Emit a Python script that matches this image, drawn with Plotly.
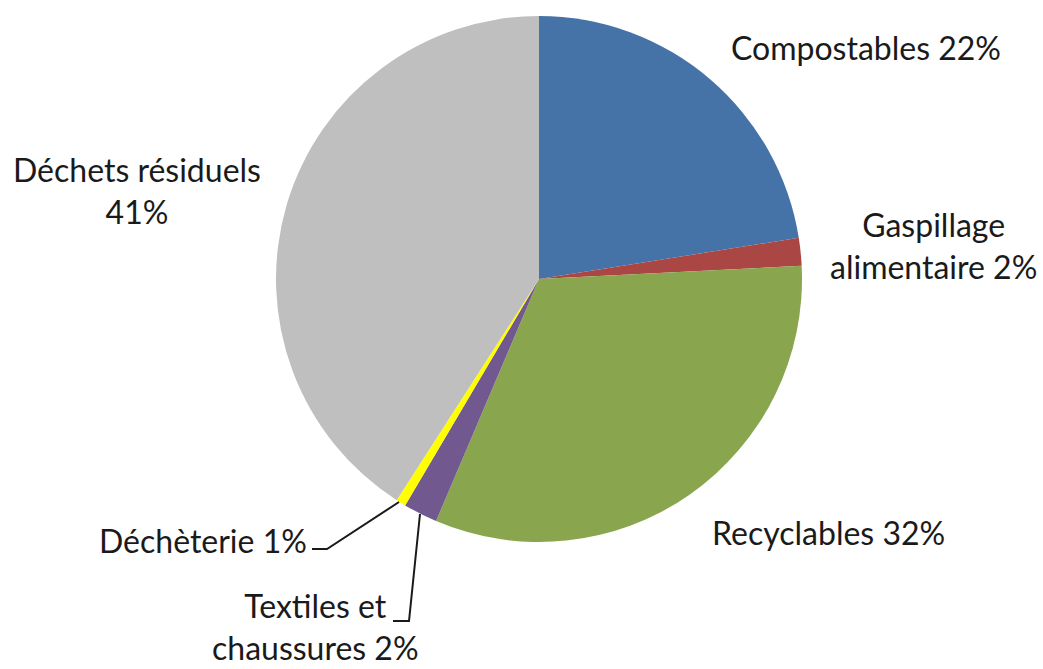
import plotly.graph_objects as go

W, H = 1043, 669

categories = ["Compostables", "Gaspillage alimentaire", "Recyclables",
              "Textiles et chaussures", "Déchèterie", "Déchets résiduels"]
values = [22.5, 1.7, 32.2, 2.1, 0.6, 40.9]
label_texts = ["Compostables 22%", "Gaspillage<br>alimentaire 2%", "Recyclables 32%",
               "Textiles et<br>chaussures 2%", "Déchèterie 1%", "Déchets résiduels<br>41%"]
colors = ["#4572A7", "#AA4643", "#89A54E", "#71588F", "#FFFF00", "#BFBFBF"]

# label anchor positions in pixels (centre of text block)
label_px = [(866, 47), (933, 246), (828, 532), (315, 626), (203, 540), (137, 190)]

def px(x, y):
    return x / W, 1 - y / H

cx, cy, r = 539, 279, 263
fig = go.Figure(go.Pie(
    labels=categories, values=values, sort=False, direction="clockwise",
    rotation=0, marker=dict(colors=colors, line=dict(width=0)),
    textinfo="none", hoverinfo="label+percent", showlegend=False,
    domain=dict(x=[(cx - r) / W, (cx + r) / W], y=[1 - (cy + r) / H, 1 - (cy - r) / H]),
))

for t, (x, y) in zip(label_texts, label_px):
    xp, yp = px(x, y)
    fig.add_annotation(x=xp, y=yp, xref="paper", yref="paper", text=t, showarrow=False,
                       xanchor="center", yanchor="middle", align="center",
                       font=dict(family="Lato", size=32, color="#1a1a1a"))

leaders = [
    [(312, 549), (327, 549), (399, 502)],
    [(393, 621), (409, 621), (420, 514)],
]
for pts in leaders:
    path = "M " + " L ".join(f"{px(x, y)[0]},{px(x, y)[1]}" for x, y in pts)
    fig.add_shape(type="path", path=path, xref="paper", yref="paper",
                  line=dict(color="#1a1a1a", width=2))

fig.update_layout(width=W, height=H, margin=dict(l=0, r=0, t=0, b=0),
                  paper_bgcolor="white", plot_bgcolor="white")
fig.write_html("out.html", config={"displayModeBar": False},
               post_script="document.body.style.margin='0';")
